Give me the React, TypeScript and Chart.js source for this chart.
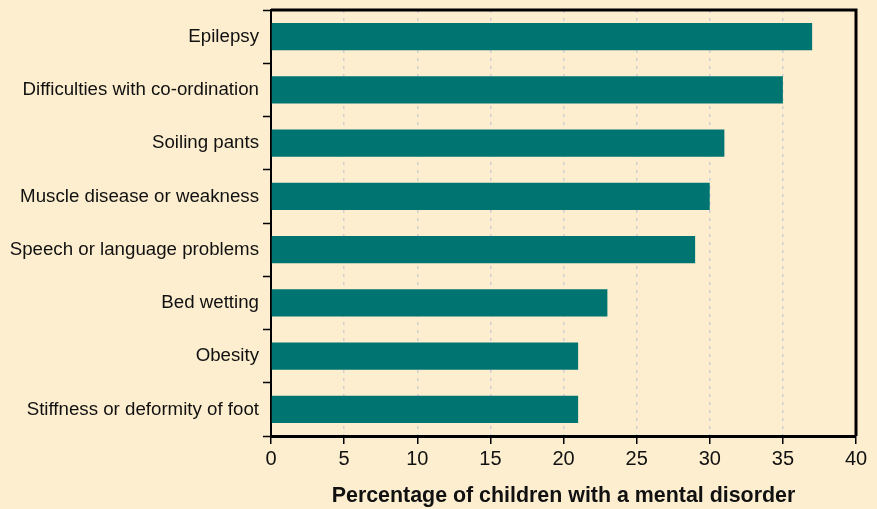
import React, { useEffect, useRef } from "react";
import { Chart, registerables } from "chart.js";

Chart.register(...registerables);

const categories = [
  "Epilepsy",
  "Difficulties with co-ordination",
  "Soiling pants",
  "Muscle disease or weakness",
  "Speech or language problems",
  "Bed wetting",
  "Obesity",
  "Stiffness or deformity of foot",
];
const values = [37, 35, 31, 30, 29, 23, 21, 21];
const xTicks = [0, 5, 10, 15, 20, 25, 30, 35, 40];
const xTitle = "Percentage of children with a mental disorder";

const BG = "#FDEECF";
const BAR = "#007470";
const FONT = "Liberation Sans, Arial, sans-serif";

const framePlugin = {
  id: "frame",
  afterDraw(chart: any) {
    const { ctx, chartArea } = chart;
    ctx.save();
    ctx.strokeStyle = "#000";
    ctx.lineWidth = 3;
    ctx.beginPath();
    ctx.moveTo(chartArea.left, chartArea.top);
    ctx.lineTo(chartArea.right, chartArea.top);
    ctx.lineTo(chartArea.right, chartArea.bottom);
    ctx.stroke();
    ctx.restore();
  },
};

export default function App() {
  const ref = useRef<HTMLCanvasElement>(null);
  useEffect(() => {
    document.body.style.margin = "0";
    const chart = new Chart(ref.current!, {
      type: "bar",
      data: {
        labels: categories,
        datasets: [
          {
            data: values,
            backgroundColor: BAR,
            barPercentage: 0.51,
            categoryPercentage: 1,
          },
        ],
      },
      plugins: [framePlugin],
      options: {
        indexAxis: "y",
        animation: false,
        responsive: false,
        layout: { padding: { top: 10, right: 21, left: 0, bottom: 0 } },
        plugins: { legend: { display: false }, tooltip: { enabled: false } },
        scales: {
          x: {
            min: 0,
            max: 40,
            afterBuildTicks: (scale: any) => {
              scale.ticks = xTicks.map((v) => ({ value: v }));
            },
            afterFit: (scale: any) => {
              scale.height = 73;
            },
            grid: {
              drawOnChartArea: true,
              color: (c: any) =>
                c.tick && (c.tick.value === 0 || c.tick.value === 40) ? "rgba(0,0,0,0)" : "#D0D0D4",
              lineWidth: 1.5,
              tickLength: 8,
              tickColor: "#000",
              tickWidth: 1.5,
            } as any,
            border: { display: true, color: "#000", width: 3, dash: [3, 5] },
            ticks: {
              color: "#111",
              font: { family: FONT, size: 20 },
              padding: 3,
              maxRotation: 0,
            },
            title: {
              display: true,
              text: xTitle,
              color: "#111",
              font: { family: FONT, size: 21.4, weight: "bold" },
              padding: { top: 0, bottom: 0 },
            },
          },
          y: {
            afterFit: (scale: any) => {
              scale.width = 271;
              scale.paddingTop = 0;
              scale.paddingBottom = 0;
            },
            grid: {
              drawOnChartArea: false,
              offset: true,
              tickLength: 8,
              tickColor: "#000",
              tickWidth: 1.5,
            },
            border: { display: true, color: "#000", width: 2 },
            ticks: {
              color: "#111",
              font: { family: FONT, size: 18.7 },
              padding: 4,
            },
          },
        },
      } as any,
    });
    return () => chart.destroy();
  }, []);
  return (
    <div style={{ width: 877, height: 509, background: BG }}>
      <canvas ref={ref} width={877} height={509} style={{ display: "block" }} />
    </div>
  );
}
